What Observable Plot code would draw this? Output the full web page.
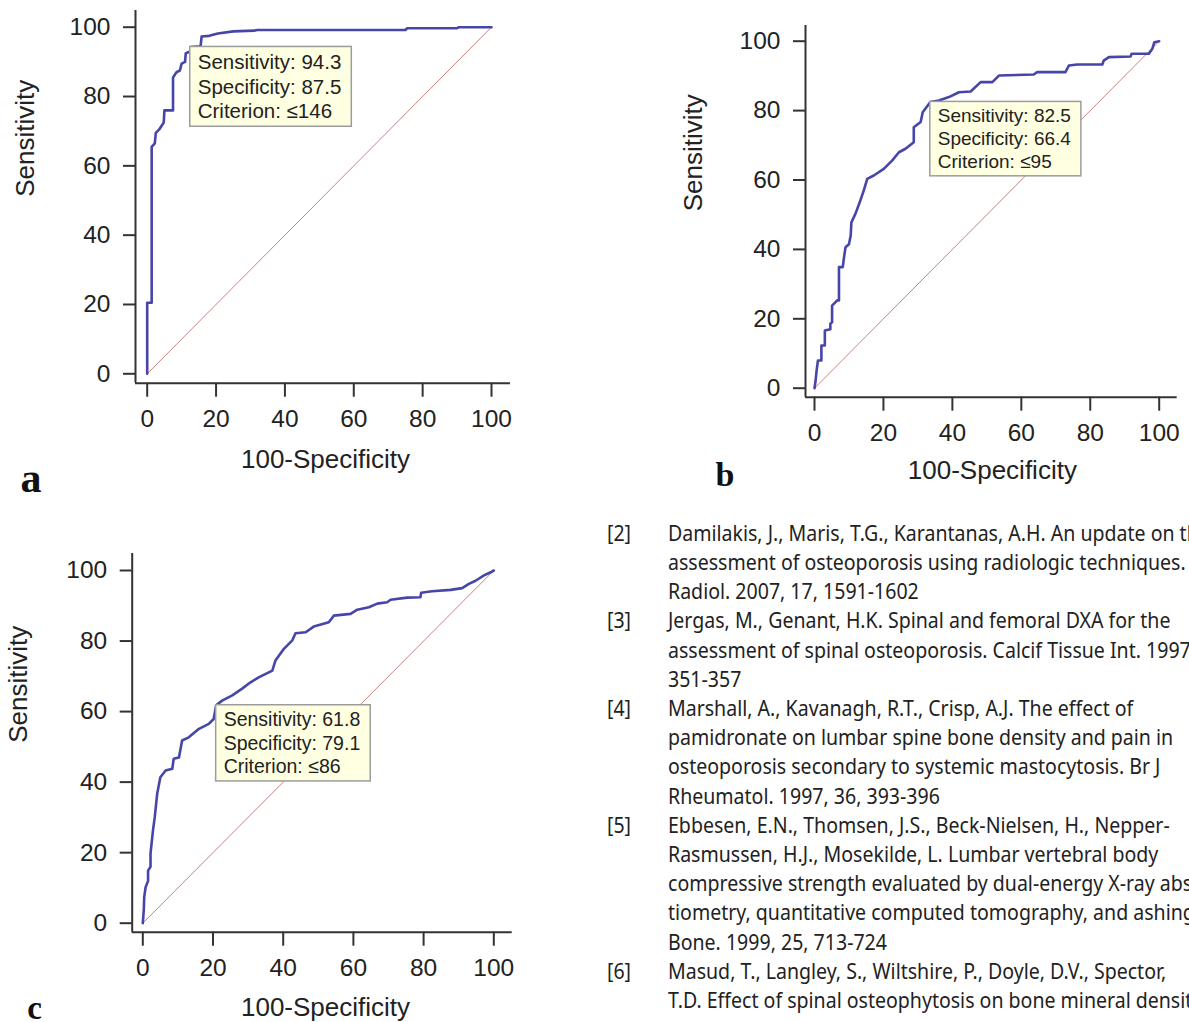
<!DOCTYPE html>
<html><head><meta charset="utf-8">
<script src="https://cdn.jsdelivr.net/npm/d3@7"></script>
<script src="https://cdn.jsdelivr.net/npm/@observablehq/plot@0.6"></script>
<style>
html,body{margin:0;padding:0;background:#fff;overflow:hidden;width:1189px;height:1022px}
#page{position:relative;width:1189px;height:1022px;overflow:hidden;background:#fff}
.panel{position:absolute}
.refline{position:absolute;white-space:nowrap;font-family:"Noto Sans","Open Sans",sans-serif;color:#222;transform-origin:0 50%}
</style></head><body><div id="page"></div>
<script>
// ---------- data ----------
const ticks = [0, 20, 40, 60, 80, 100];
const xTitle = "100-Specificity";
const yTitle = "Sensitivity";
const tipLabels = ["Sensitivity", "Specificity", "Criterion"];

// ROC curve vertices [100-Specificity, Sensitivity]
const rocA = [[0,0],[0,20.5],[1.3,20.5],[1.3,65.5],[2.2,66.5],[2.5,69.5],[3.5,70.5],[4.8,72.5],[5,76],[7.5,76],[7.5,85.5],[8.5,87],[9.5,87.5],[10,89.5],[11,90],[11.2,92.5],[12.5,93],[12.7,94.3],[15.5,94.5],[15.8,97.3],[18,97.5],[20.5,98.2],[25,98.8],[31,99],[32,99.2],[75,99.2],[75.5,99.7],[90,99.7],[90.5,100],[100,100]];
const rocB = [[0,0],[0.3,2],[0.6,5],[1,8],[2,8],[2,12.3],[3,12.3],[3,16.6],[4.6,17],[4.6,18.6],[5.1,19],[5.1,23.8],[6.6,25.3],[7.1,25.3],[7.1,34.9],[8.2,34.9],[8.6,38],[9,40.6],[10,41.5],[10.5,44],[10.7,47.8],[11.9,50.3],[13.3,54.1],[14.3,57],[15.3,60.3],[17.2,61.3],[20.1,63.2],[22.5,65.6],[24.5,68],[26.4,69],[28.8,70.9],[28.8,75.2],[30.8,76.7],[31.4,79.5],[33.6,82.5],[36.1,82.9],[39,83.9],[41.9,85.3],[45.3,85.5],[48.2,88.2],[51.6,88.2],[53.5,90.1],[63.6,90.4],[64.6,91.1],[72.8,91.1],[73.8,93],[76.2,93.3],[83.5,93.3],[83.9,94.4],[85.4,95.4],[91.7,95.6],[92,96.4],[97,96.4],[98,97.8],[98.6,99.7],[100,100]];
const rocC = [[0,0],[0.3,4],[0.4,7.4],[0.8,10.2],[1.5,12],[1.5,14.9],[2.2,16],[2.2,19.7],[2.9,26.3],[3.4,30],[4.1,36.7],[5,41.4],[6.5,43.3],[8.4,43.8],[8.8,46.6],[10.3,47],[11.2,51.8],[13.1,52.7],[16,55.1],[18.8,56.5],[20.2,57.9],[20.9,61.8],[22.6,63.1],[25.5,64.6],[28.3,66.5],[30.7,68.3],[33,69.7],[36.9,71.6],[37.8,74.5],[40.2,77.8],[42.6,80.2],[43.5,82.2],[46.4,82.5],[48.7,84.1],[53,85.3],[54.4,87.2],[59.2,87.7],[61.1,88.9],[64.4,89.6],[66.8,90.6],[69.6,91],[70.6,91.7],[75.3,92.3],[79.1,92.4],[79.3,93.7],[82.4,94.1],[87.7,94.5],[91,95],[92.9,96.2],[94.8,97.1],[97.2,98.6],[99.1,99.5],[100,100]];
const diagonal = [[0,0],[100,100]];

// optimal cut-off boxes: [sensitivity, specificity, criterion]
const tipA = ["94.3", "87.5", "≤146"];
const tipB = ["82.5", "66.4", "≤95"];
const tipC = ["61.8", "79.1", "≤86"];

const refNums = ["[2]", "", "", "[3]", "", "", "[4]", "", "", "", "[5]", "", "", "", "", "[6]", ""];
const refLines = [
  "Damilakis, J., Maris, T.G., Karantanas, A.H. An update on the",
  "assessment of osteoporosis using radiologic techniques. Eur",
  "Radiol. 2007, 17, 1591-1602",
  "Jergas, M., Genant, H.K. Spinal and femoral DXA for the",
  "assessment of spinal osteoporosis. Calcif Tissue Int. 1997, 61,",
  "351-357",
  "Marshall, A., Kavanagh, R.T., Crisp, A.J. The effect of",
  "pamidronate on lumbar spine bone density and pain in",
  "osteoporosis secondary to systemic mastocytosis. Br J",
  "Rheumatol. 1997, 36, 393-396",
  "Ebbesen, E.N., Thomsen, J.S., Beck-Nielsen, H., Nepper-",
  "Rasmussen, H.J., Mosekilde, L. Lumbar vertebral body",
  "compressive strength evaluated by dual-energy X-ray absorp-",
  "tiometry, quantitative computed tomography, and ashing.",
  "Bone. 1999, 25, 713-724",
  "Masud, T., Langley, S., Wiltshire, P., Doyle, D.V., Spector,",
  "T.D. Effect of spinal osteophytosis on bone mineral density"
];

// ---------- layout ----------
const layA = {ox:0, oy:0, W:560, H:510, x0:146.7, x100:491, y0:373.3, y100:26.7, left:135, right:510, top:10, bottom:382.7, tipFs:20.5, titleDx:2.5, titleDy:76.3, ylabDx:-110, letter:"a", letterX:20, letterBase:491, letterFs:42};
const layB = {ox:660, oy:0, W:529, H:500, x0:814, x100:1158.7, y0:387.7, y100:40.7, left:805, right:1176.7, top:25, bottom:396.7, tipFs:19, titleDx:1, titleDy:73.3, ylabDx:-112, letter:"b", letterX:715, letterBase:485, letterFs:34};
const layC = {ox:0, oy:520, W:560, H:502, x0:142.3, x100:493.3, y0:922.7, y100:570, left:131.7, right:511.7, top:553, bottom:931.7, tipFs:19.5, titleDx:3.3, titleDy:75, ylabDx:-113.7, letter:"c", letterX:26.7, letterBase:1018, letterFs:33};

const canvas = document.createElement("canvas");
const ctx = canvas.getContext("2d");
const SANS = '"Liberation Sans", Arial, sans-serif';

function tooltip(cfg, vals) {
  return (index, scales) => {
    const fs = cfg.tipFs, lh = fs * 1.2;
    const px = scales.x(100 - +vals[1]), py = scales.y(+vals[0]);
    const lines = tipLabels.map((l, i) => `${l}: ${vals[i]}`);
    ctx.font = `${fs}px ${SANS}`;
    const w = d3.max(lines, s => ctx.measureText(s).width) + 18;
    const h = 3 * lh + 6;
    const g = d3.create("svg:g");
    g.append("rect").attr("x", px).attr("y", py).attr("width", w).attr("height", h)
      .attr("fill", "#ffffe1").attr("stroke", "#9c9c9c").attr("stroke-width", 1.5);
    g.selectAll("text").data(lines).join("text")
      .attr("x", px + 8).attr("y", (d, i) => py + 3 + lh * (i + 0.5)).attr("dy", "0.35em")
      .attr("text-anchor", "start")
      .attr("font-size", fs).attr("fill", "#222").attr("font-family", SANS).text(d => d);
    return g.node();
  };
}

function panel(cfg, roc, tip) {
  const kx = (cfg.x100 - cfg.x0) / 100, ky = (cfg.y0 - cfg.y100) / 100;
  const xDom = [(cfg.left - cfg.x0) / kx, (cfg.right - cfg.x0) / kx];
  const yDom = [(cfg.y0 - cfg.bottom) / ky, (cfg.y0 - cfg.top) / ky];
  const chart = Plot.plot({
    width: cfg.W, height: cfg.H,
    marginLeft: cfg.left - cfg.ox, marginRight: cfg.ox + cfg.W - cfg.right,
    marginTop: cfg.top - cfg.oy, marginBottom: cfg.oy + cfg.H - cfg.bottom,
    x: {domain: xDom}, y: {domain: yDom},
    style: {fontFamily: SANS, background: "transparent", color: "#222", overflow: "visible"},
    marks: [
      Plot.line(diagonal, {stroke: "#cc8080", strokeWidth: 1}),
      Plot.line(roc, {stroke: "#4646a8", strokeWidth: 2.6}),
      Plot.ruleX([xDom[0]], {stroke: "#333", strokeWidth: 2}),
      Plot.ruleY([yDom[0]], {stroke: "#333", strokeWidth: 2}),
      Plot.axisX(ticks, {tickSize: 14, tickPadding: 12, fontSize: 24.5, stroke: "#333", strokeWidth: 2, label: null}),
      Plot.axisY(ticks, {tickSize: 12, tickPadding: 13, fontSize: 24.5, stroke: "#333", strokeWidth: 2, label: null}),
      tooltip(cfg, tip),
      Plot.text([xTitle], {frameAnchor: "bottom", lineAnchor: "middle", dx: cfg.titleDx, dy: cfg.titleDy, fontSize: 26, fill: "#222"}),
      Plot.text([yTitle], {frameAnchor: "left", lineAnchor: "middle", dx: cfg.ylabDx, rotate: -90, fontSize: 26, fill: "#222"}),
      Plot.text([cfg.letter], {frameAnchor: "bottom-left", dx: cfg.letterX - cfg.left, dy: cfg.letterBase - cfg.bottom,
        textAnchor: "start", lineAnchor: "bottom", fontFamily: '"Liberation Serif", "Times New Roman", serif',
        fontWeight: "bold", fontSize: cfg.letterFs, fill: "#111"})
    ]
  });
  chart.classList.add("panel");
  chart.style.left = cfg.ox + "px";
  chart.style.top = cfg.oy + "px";
  document.getElementById("page").appendChild(chart);
}

panel(layA, rocA, tipA);
panel(layB, rocB, tipB);
panel(layC, rocC, tipC);

// reference list
const page = document.getElementById("page");
const refFs = 21, refLH = 29.2, refTop = 518.7;
ctx.font = `${refFs}px "Noto Sans"`;
const sx = 502.4 / ctx.measureText(refLines[3]).width;
refLines.forEach((t, i) => {
  const top = refTop + i * refLH;
  if (refNums[i]) {
    const n = document.createElement("div");
    n.className = "refline";
    n.textContent = refNums[i];
    Object.assign(n.style, {left: "607px", top: top + "px", fontSize: refFs + "px", lineHeight: refLH + "px", transform: `scaleX(${sx})`});
    page.appendChild(n);
  }
  const d = document.createElement("div");
  d.className = "refline";
  d.textContent = t;
  Object.assign(d.style, {left: "668.3px", top: top + "px", fontSize: refFs + "px", lineHeight: refLH + "px", transform: `scaleX(${sx})`});
  page.appendChild(d);
});
</script></body></html>
